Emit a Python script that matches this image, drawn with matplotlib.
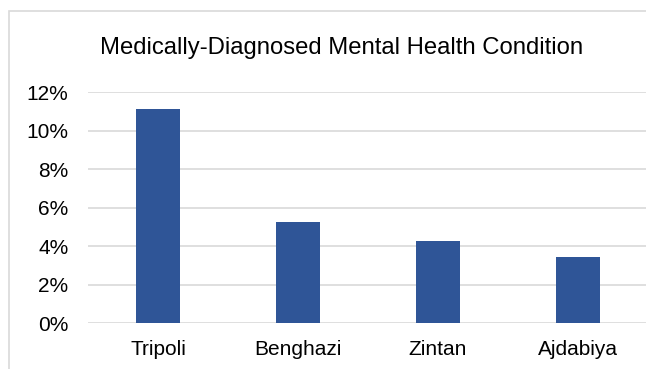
import matplotlib.pyplot as plt
from matplotlib.patches import Rectangle
from matplotlib.ticker import FuncFormatter

plt.rcParams['font.family'] = ['Liberation Sans', 'DejaVu Sans']

cities = ['Tripoli', 'Benghazi', 'Zintan', 'Ajdabiya']
rates = [0.1112, 0.0525, 0.0428, 0.0343]
yticks = [0, 0.02, 0.04, 0.06, 0.08, 0.10, 0.12]

fig = plt.figure(figsize=(6.46, 3.69), dpi=100)
W, H = 646, 369

# chart-area border (cropped on the right and bottom)
fig.patches.append(Rectangle((9 / W, -0.1), 1.0, (H - 11) / H + 0.1,
                             transform=fig.transFigure, fill=False,
                             edgecolor='#d9d9d9', linewidth=1.2))

ax = fig.add_axes([88 / W, 45.7 / H, 1 - 88 / W, (323.3 - 92.3) / H])
ax.bar(range(len(cities)), rates, width=0.31, color='#2f5597', zorder=3)

ax.set_xlim(-0.5, 3.487)
ax.set_ylim(0, 0.12)
ax.set_yticks(yticks)
ax.yaxis.set_major_formatter(FuncFormatter(lambda v, _: f'{v * 100:.0f}%'))
ax.set_xticks(range(len(cities)))
ax.set_xticklabels(cities)
ax.tick_params(axis='both', length=0, labelsize=15, colors='#000000')
ax.tick_params(axis='y', pad=14)
ax.tick_params(axis='x', pad=12)
ax.grid(axis='y', color='#d9d9d9', linewidth=1.2, zorder=0)
ax.set_axisbelow(True)
for s in ax.spines.values():
    s.set_visible(False)

fig.text(342 / W, 1 - 54.3 / H, 'Medically-Diagnosed Mental Health Condition',
         ha='center', va='baseline', fontsize=17.2)

fig.savefig('out.png', dpi=100)
